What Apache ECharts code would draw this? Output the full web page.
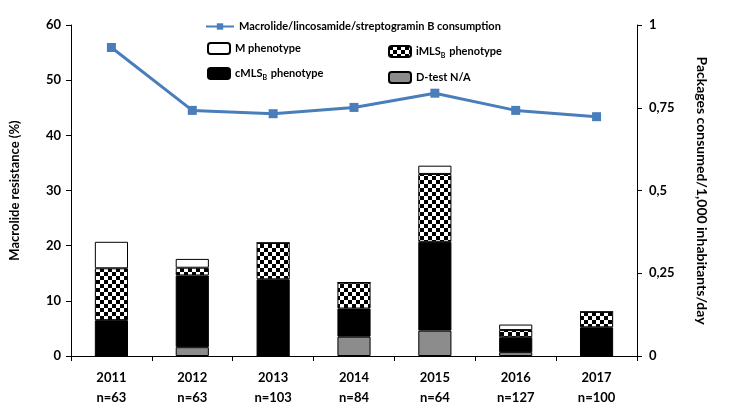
<!DOCTYPE html>
<html><head><meta charset="utf-8">
<script src="https://cdn.jsdelivr.net/npm/echarts@6/dist/echarts.min.js"></script>
<style>html,body{margin:0;padding:0;background:#fff}#c{width:740px;height:410px}</style>
</head><body><div id="c"></div>
<script>
var years = ['2011','2012','2013','2014','2015','2016','2017'];
var nValues = ['63','63','103','84','64','127','100'];
var dTestNA = [0, 1.6, 0, 3.5, 4.6, 0.7, 0];
var cMLSB = [6.5, 13.0, 13.9, 5.1, 16.1, 2.7, 5.2];
var iMLSB = [9.4, 1.4, 6.6, 4.7, 12.3, 1.3, 2.8];
var mPheno = [4.8, 1.6, 0, 0, 1.5, 1.0, 0];
var consumption = [0.932, 0.742, 0.732, 0.751, 0.794, 0.742, 0.723];
var leftTicks = [0, 60, 10];
var rightTicks = [0, 1, 0.25];

var cv = document.createElement('canvas');
cv.width = 8; cv.height = 8;
var cx = cv.getContext('2d');
cx.fillStyle = '#fff'; cx.fillRect(0,0,8,8);
cx.fillStyle = '#000'; cx.fillRect(0,0,4,4); cx.fillRect(4,4,4,4);
var checker = {image: cv, repeat: 'repeat'};

var FONT = 'Lato';
var chart = echarts.init(document.getElementById('c'));
var names = {
  line: 'Macrolide/lincosamide/streptogramin B consumption',
  m: 'M phenotype', c: 'cMLSB phenotype', i: 'iMLSB phenotype', d: 'D-test N/A'
};
var rich = {sub: {fontSize: 7, fontWeight: 'bold', fontFamily: FONT, color: '#000', padding: [8,1,0,0]}};
function fmt(n){ return n.replace('MLSB', 'MLS{sub|B}'); }
var legText = {fontFamily: FONT, fontWeight: 'bold', fontSize: 11, color: '#000', rich: rich};
var barStyle = function(col){ return {color: col, borderColor: '#000', borderWidth: 1}; };
chart.setOption({
  animation: false,
  grid: {left: 71, right: 103, top: 25, bottom: 54},
  legend: [
    {data: [names.line], left: 200, top: 16, itemWidth: 28, itemHeight: 8, textStyle: legText, formatter: fmt},
    {data: [names.m, names.c], orient: 'vertical', left: 202, top: 37, itemWidth: 22, itemHeight: 11, itemGap: 12, textStyle: legText, formatter: fmt},
    {data: [names.i, names.d], orient: 'vertical', left: 383, top: 40, itemWidth: 22, itemHeight: 11, itemGap: 12, textStyle: legText, formatter: fmt}
  ],
  xAxis: {
    type: 'category', data: years,
    axisLine: {lineStyle: {color: '#000', width: 1}},
    axisTick: {show: true, length: 5, lineStyle: {color: '#000'}},
    axisLabel: {
      fontFamily: FONT, fontWeight: 'bold', fontSize: 13, color: '#000', lineHeight: 20, margin: 12,
      formatter: function(v, i){ return v + '\nn=' + nValues[i]; }
    }
  },
  yAxis: [
    {type: 'value', min: leftTicks[0], max: leftTicks[1], interval: leftTicks[2],
     name: 'Macrolide resistance (%)', nameLocation: 'middle', nameGap: 50, nameRotate: 90,
     nameTextStyle: {fontFamily: FONT, fontWeight: 'bold', fontSize: 13, color: '#000'},
     axisLine: {show: true, lineStyle: {color: '#000'}},
     axisTick: {show: true, length: 5, lineStyle: {color: '#000'}},
     splitLine: {show: false},
     axisLabel: {fontFamily: FONT, fontWeight: 'bold', fontSize: 13, color: '#000', margin: 10}},
    {type: 'value', min: rightTicks[0], max: rightTicks[1], interval: rightTicks[2], position: 'right',
     name: 'Packages consumed/1,000 inhabitants/day', nameLocation: 'middle', nameGap: 58, nameRotate: -90,
     nameTextStyle: {fontFamily: FONT, fontWeight: 'bold', fontSize: 14, color: '#000'},
     axisLine: {show: true, lineStyle: {color: '#000'}},
     axisTick: {show: true, length: 5, lineStyle: {color: '#000'}},
     splitLine: {show: false},
     axisLabel: {fontFamily: FONT, fontWeight: 'bold', fontSize: 13, color: '#000', margin: 12,
       formatter: function(v){ return String(v).replace('.', ','); }}}
  ],
  series: [
    {name: names.d, type: 'bar', stack: 's', data: dTestNA, barWidth: '41%', itemStyle: barStyle('#8c8c8c')},
    {name: names.c, type: 'bar', stack: 's', data: cMLSB, itemStyle: barStyle('#000')},
    {name: names.i, type: 'bar', stack: 's', data: iMLSB, itemStyle: barStyle(checker)},
    {name: names.m, type: 'bar', stack: 's', data: mPheno, itemStyle: barStyle('#fff')},
    {name: names.line, type: 'line', yAxisIndex: 1, data: consumption, symbol: 'rect', symbolSize: 9,
     lineStyle: {color: '#4a7ebb', width: 3}, itemStyle: {color: '#4a7ebb'}, z: 5}
  ]
});
</script></body></html>
